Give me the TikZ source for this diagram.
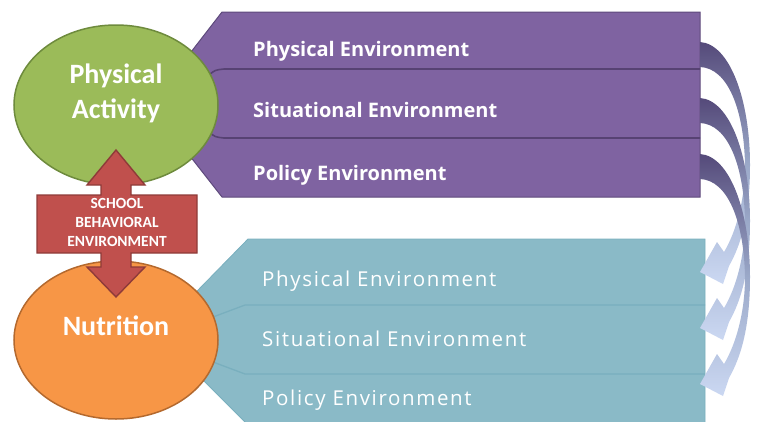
\documentclass[tikz,border=0pt]{standalone}
\usepackage{fontspec}
\usetikzlibrary{shapes.geometric}
\setmainfont{Carlito}
\newfontfamily\osans{Open Sans}
\newfontfamily\osansls[LetterSpace=8]{Open Sans}
\definecolor{purplefill}{HTML}{7F63A1}
\definecolor{purpleline}{HTML}{5E4A7C}
\definecolor{purplediv}{HTML}{574273}
\definecolor{tealfill}{HTML}{8ABAC7}
\definecolor{tealline}{HTML}{79AFBE}
\definecolor{greenfill}{HTML}{9BBB59}
\definecolor{greenline}{HTML}{6E8B3D}
\definecolor{orangefill}{HTML}{F79646}
\definecolor{orangeline}{HTML}{B4692E}
\definecolor{redfill}{HTML}{C0504D}
\definecolor{redline}{HTML}{8E3B39}
\definecolor{arrdark}{HTML}{554A7A}
\definecolor{arrmid}{HTML}{9AA8C8}
\definecolor{arrlight}{HTML}{CBD8F2}
\begin{document}
\begin{tikzpicture}[x=1pt,y=-1pt,
  purpletxt/.style={font=\osans\bfseries\fontsize{20}{24}\selectfont, text=white, anchor=base west, inner sep=0pt},
  tealtxt/.style={font=\osansls\fontsize{20.5}{24}\selectfont, text=white, anchor=base west, inner sep=0pt},
  bigtxt/.style={font=\bfseries\fontsize{28}{34}\selectfont, text=white, anchor=base, inner sep=0pt},
  redtxt/.style={font=\bfseries\fontsize{15.5}{19}\selectfont, text=white, align=center, inner sep=0pt},
  oval/.style={ellipse, inner sep=0pt, line width=1.5pt, minimum width=204pt, minimum height=160pt},
  curvearrow/.style={top color=arrdark, bottom color=arrlight, middle color=arrmid, draw=none}]
\useasboundingbox (0,0) rectangle (758,421);

% purple block
\path[fill=purplefill, draw=purpleline, line width=1pt] (222,12) -- (700,12) -- (700,197) -- (222,197) -- (150,105) -- cycle;
\draw[purplediv, line width=1.6pt] (209,75) .. controls (215,70) .. (224,69) -- (700,69);
\draw[purplediv, line width=1.6pt] (209,132) .. controls (215,137) .. (224,138) -- (700,138);

% teal block
\path[fill=tealfill, draw=tealline, line width=0.8pt] (248,239) -- (705,239) -- (705,430) -- (253,430) -- (156,333) -- cycle;
\draw[tealline, line width=1.3pt] (205,320) -- (245,305) -- (705,305);
\draw[tealline, line width=1.3pt] (205,359) -- (245,374) -- (705,374);

% ellipses
\node[oval, draw=greenline, fill=greenfill] (pa) at (116,105) {};
\node[oval, draw=orangeline, fill=orangefill, minimum height=158pt] (nu) at (116,340) {};

% red double arrow
\path[fill=redfill, draw=redline, line width=1.4pt]
 (116,150) -- (145,185) -- (131,185) -- (131,195) -- (197,195) -- (197,253) -- (131,253) -- (131,267) -- (145,267) -- (116,297) -- (87,267) -- (101,267) -- (101,253) -- (37,253) -- (37,195) -- (101,195) -- (101,185) -- (87,185) -- cycle;

% texts
\node[bigtxt] (pa1) at (116,83) {Physical};
\node[bigtxt] (pa2) at (116,118) {Activity};
\node[bigtxt] (nut) at (116,335) {Nutrition};
\node[redtxt] (sbe) at (117,222) {SCHOOL\\BEHAVIORAL\\ENVIRONMENT};

\node[purpletxt] (p1) at (253,56) {Physical Environment};
\node[purpletxt] (p2) at (253,117) {Situational Environment};
\node[purpletxt] (p3) at (253,180) {Policy Environment};

\node[tealtxt] (t1) at (262,286) {Physical Environment};
\node[tealtxt] (t2) at (262,346) {Situational Environment};
\node[tealtxt] (t3) at (262,405) {Policy Environment};

% curved arrows
\foreach \s in {0,56,112}{
\begin{scope}[shift={(0,\s)}]
\path[curvearrow]
 (700,42) .. controls (730,44) and (750,100) .. (750,165)
 .. controls (750,215) and (741,245) .. (729,266)
 -- (723,284) -- (700,272) -- (717,242) -- (724,252)
 .. controls (736,232) and (745,200) .. (745,165)
 .. controls (744,110) and (728,68) .. (700,67) -- cycle;
\end{scope}
}
\end{tikzpicture}
\end{document}
